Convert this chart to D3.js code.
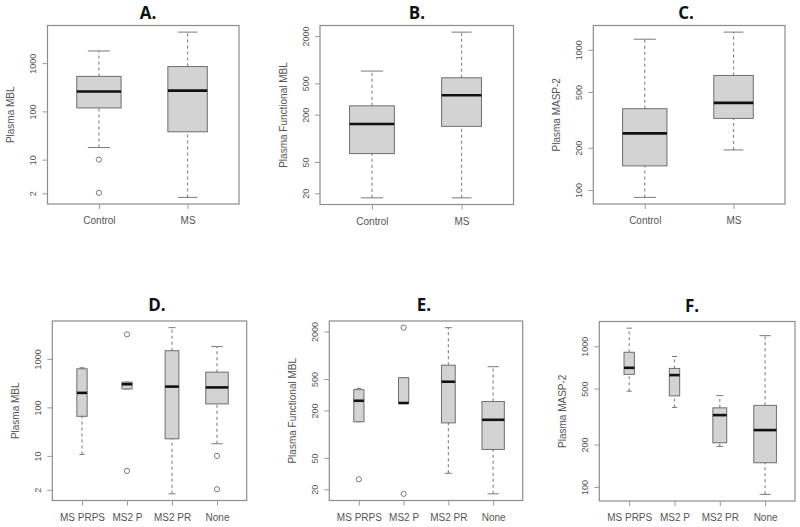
<!DOCTYPE html>
<html>
<head>
<meta charset="utf-8">
<script src="https://cdn.jsdelivr.net/npm/d3@7"></script>
<style>
html,body{margin:0;padding:0;background:#fff;}
svg{display:block;}
</style>
</head>
<body>
<svg id="chart" width="800" height="527"></svg>
<script>
// ---------- data ----------
const groupsTop = ["Control", "MS"];
const groupsBottom = ["MS PRPS", "MS2 P", "MS2 PR", "None"];
const nTop = [48, 38];
const nBottom = [10, 10, 18, 48];

// five-number summaries: [lower whisker, Q1, median, Q3, upper whisker]
const mblTopStats = [[17.8, 118, 258, 532, 1790], [1.65, 37.8, 270, 850, 4400]];
const mblTopOut = [[10, 2.05], []];
const funcTopStats = [[17.5, 64, 152, 259, 716], [17.5, 142, 353, 589, 2240]];
const funcTopOut = [[], []];
const maspTopStats = [[88.5, 148.5, 253.5, 380, 1190], [193, 324, 418, 656, 1337]];
const maspTopOut = [[], []];

const mblBotStats = [[10.7, 65.4, 199, 624, 655], [240, 240, 300, 331, 331], [1.65, 22.5, 268, 1472, 4400], [17.8, 118, 258, 532, 1790]];
const mblBotOut = [[], [3200, 4.9], [], [10, 2.05]];
const funcBotStats = [[143.6, 143.6, 265, 366, 381], [246, 246, 248, 520, 520], [31.9, 139, 462, 748, 2240], [17.5, 64, 152, 259, 716]];
const funcBotOut = [[26.8], [2240, 17.5], [], []];
const maspBotStats = [[479, 631, 703, 907, 1346], [367, 444, 624, 696, 846], [194, 206, 324, 365, 446], [88.5, 148.5, 253.5, 380, 1190]];
const maspBotOut = [[], [], [], []];

const mblTicks = [2, 10, 100, 1000];
const funcTicks = [20, 50, 200, 500, 2000];
const maspTicks = [100, 200, 500, 1000];

const titles = ["A.", "B.", "C.", "D.", "E.", "F."];
const yTitles = ["Plasma MBL", "Plasma Functional MBL", "Plasma MASP-2"];

// ---------- layout ----------
const panels = [
  {title: titles[0], ylab: yTitles[0], groups: groupsTop, n: nTop, stats: mblTopStats, out: mblTopOut, ticks: mblTicks, L: 47.5, R: 239, T: 25.5, B: 204, tx: 148, ty: 19},
  {title: titles[1], ylab: yTitles[1], groups: groupsTop, n: nTop, stats: funcTopStats, out: funcTopOut, ticks: funcTicks, L: 320, R: 513.5, T: 25.5, B: 204.5, tx: 417, ty: 19},
  {title: titles[2], ylab: yTitles[2], groups: groupsTop, n: nTop, stats: maspTopStats, out: maspTopOut, ticks: maspTicks, L: 593.3, R: 785, T: 25.5, B: 204, tx: 686, ty: 19},
  {title: titles[3], ylab: yTitles[0], groups: groupsBottom, n: nBottom, stats: mblBotStats, out: mblBotOut, ticks: mblTicks, L: 52.3, R: 246.7, T: 321, B: 500.5, tx: 157, ty: 311},
  {title: titles[4], ylab: yTitles[1], groups: groupsBottom, n: nBottom, stats: funcBotStats, out: funcBotOut, ticks: funcTicks, L: 329.3, R: 522.7, T: 321, B: 500.5, tx: 424, ty: 311},
  {title: titles[5], ylab: yTitles[2], groups: groupsBottom, n: nBottom, stats: maspBotStats, out: maspBotOut, ticks: maspTicks, L: 599.3, R: 795, T: 321.5, B: 501, tx: 692, ty: 312}
];

const svg = d3.select("#chart");
const frameCol = "#8c8c8c", textCol = "#555", boxStroke = "#6e6e6e", boxFill = "#d3d3d3";
const tickFont = "Liberation Sans, Arial, sans-serif";

panels.forEach(p => {
  const g = svg.append("g");
  const k = p.groups.length;
  // R-style limits: 0.5..k+0.5 extended by 4%
  const x = d3.scaleLinear().domain([0.5 - 0.04 * k, k + 0.5 + 0.04 * k]).range([p.L, p.R]);
  const all = p.stats.flat().concat(p.out.flat()).map(v => Math.log10(v));
  const lo = d3.min(all), hi = d3.max(all), pad = (hi - lo) * 0.04;
  const y = d3.scaleLog().domain([Math.pow(10, lo - pad), Math.pow(10, hi + pad)]).range([p.B, p.T]);
  const nMax = d3.max(p.n);
  const boxwex = 0.5;

  p.groups.forEach((name, i) => {
    const s = p.stats[i];
    const cx = x(i + 1);
    const hw = (x(1 + boxwex * Math.sqrt(p.n[i] / nMax) / 2) - x(1));
    const sw = hw / 2;
    // whiskers dashed
    [[s[0], s[1]], [s[3], s[4]]].forEach(([a, b]) => {
      if (Math.abs(y(a) - y(b)) > 0.5) {
        g.append("line").attr("x1", cx).attr("x2", cx).attr("y1", y(a)).attr("y2", y(b))
          .attr("stroke", "#8a8a8a").attr("stroke-width", 1.2).attr("stroke-dasharray", "3,3");
      }
    });
    // staples
    [s[0], s[4]].forEach(v => {
      g.append("line").attr("x1", cx - sw).attr("x2", cx + sw).attr("y1", y(v)).attr("y2", y(v))
        .attr("stroke", "#7a7a7a").attr("stroke-width", 1);
    });
    // box
    g.append("rect").attr("x", cx - hw).attr("width", 2 * hw)
      .attr("y", y(s[3])).attr("height", Math.max(0.5, y(s[1]) - y(s[3])))
      .attr("fill", boxFill).attr("stroke", boxStroke).attr("stroke-width", 1);
    // median
    g.append("line").attr("x1", cx - hw).attr("x2", cx + hw).attr("y1", y(s[2])).attr("y2", y(s[2]))
      .attr("stroke", "#111").attr("stroke-width", 2.6);
    // outliers
    p.out[i].forEach(v => {
      g.append("circle").attr("cx", cx).attr("cy", y(v)).attr("r", 2.6)
        .attr("fill", "none").attr("stroke", "#7a7a7a").attr("stroke-width", 1);
    });
  });

  // frame
  g.append("rect").attr("x", p.L).attr("y", p.T).attr("width", p.R - p.L).attr("height", p.B - p.T)
    .attr("fill", "none").attr("stroke", frameCol).attr("stroke-width", 1.2);

  // y axis
  const ya = g.append("g").attr("transform", `translate(${p.L},0)`)
    .call(d3.axisLeft(y).tickValues(p.ticks).tickFormat(d3.format("d")).tickSize(5).tickSizeOuter(0));
  ya.select(".domain").remove();
  ya.selectAll(".tick line").attr("stroke", "#999");
  ya.selectAll(".tick text").attr("fill", textCol).attr("font-family", tickFont).attr("font-size", 9)
    .attr("text-anchor", "middle").attr("x", 0).attr("dy", "0.35em")
    .attr("transform", "translate(-14.5,0) rotate(-90)");

  // x axis
  const xa = g.append("g").attr("transform", `translate(0,${p.B})`)
    .call(d3.axisBottom(x).tickValues(d3.range(1, k + 1)).tickFormat(i => p.groups[i - 1]).tickSize(5).tickSizeOuter(0));
  xa.select(".domain").remove();
  xa.selectAll(".tick line").attr("stroke", "#999");
  xa.selectAll(".tick text").attr("fill", textCol).attr("font-family", tickFont).attr("font-size", 10)
    .attr("y", 20).attr("dy", 0);

  // y title
  g.append("text").attr("transform", `translate(${p.L - 37},${(p.T + p.B) / 2}) rotate(-90)`)
    .attr("text-anchor", "middle").attr("dy", "0.35em").attr("fill", textCol)
    .attr("font-family", tickFont).attr("font-size", 10).text(p.ylab);

  // panel title
  svg.append("text").attr("x", p.tx).attr("y", p.ty).attr("text-anchor", "middle")
    .attr("font-family", "Open Sans, Lato, sans-serif").attr("font-weight", 700).attr("font-size", 17)
    .attr("fill", "#111").text(p.title);
});
</script>
</body>
</html>
